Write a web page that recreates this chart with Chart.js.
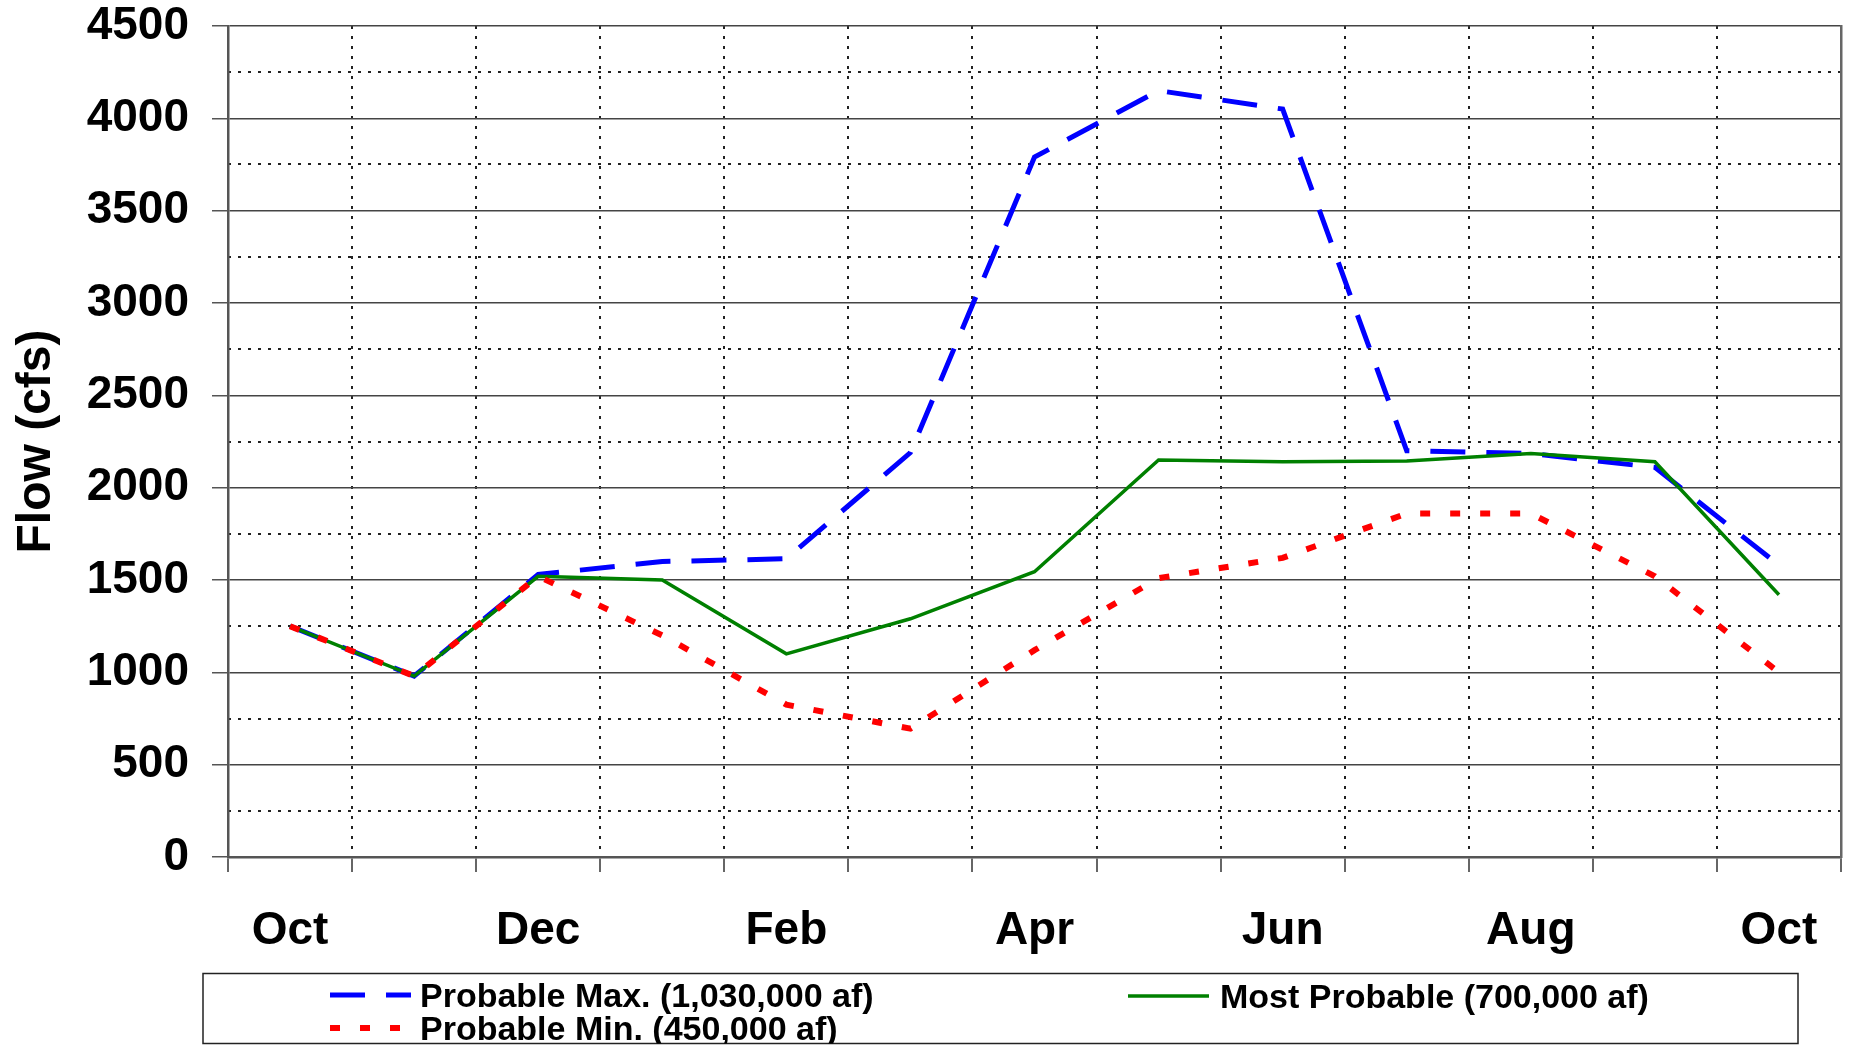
<!DOCTYPE html>
<html>
<head>
<meta charset="utf-8">
<title>Flow forecast</title>
<script src="https://cdn.jsdelivr.net/npm/chart.js@4.4.1/dist/chart.umd.min.js"></script>
<style>
  html, body { margin: 0; padding: 0; background: #fff; }
  #wrap { width: 1850px; height: 1048px; position: relative; }
</style>
</head>
<body>
<div id="wrap"><canvas id="flowChart"></canvas></div>
<script>
// monthly mean flow, Oct through the following Oct
const months = ["Oct", "Nov", "Dec", "Jan", "Feb", "Mar", "Apr", "May", "Jun", "Jul", "Aug", "Sep", "Oct"];
const probableMax = [1250, 980, 1530, 1600, 1615, 2190, 3790, 4150, 4050, 2200, 2185, 2110, 1580];
const mostProbable = [1250, 980, 1520, 1500, 1100, 1290, 1545, 2150, 2140, 2145, 2185, 2140, 1420];
const probableMin = [1250, 980, 1520, 1200, 825, 695, 1120, 1510, 1620, 1860, 1860, 1520, 1000];
const yMin = 0, yMax = 4500, yMajorStep = 500, yMinorStep = 250;

const FONT = "'Liberation Sans', Arial, Helvetica, sans-serif";
Chart.defaults.font.family = FONT;
Chart.defaults.color = "#000";

// legend is a boxed two-column grid in the original, so draw it by hand
const boxLegend = {
  id: "boxLegend",
  afterDraw(chart) {
    const ctx = chart.ctx;
    const box = { x: 203, y: 973.5, w: 1595, h: 70 };
    const slots = [
      { x: 330, y: 995, tx: 420 },
      { x: 1128, y: 996, tx: 1220 },
      { x: 330, y: 1028, tx: 420 }
    ];
    ctx.save();
    ctx.strokeStyle = "#222";
    ctx.lineWidth = 1.5;
    ctx.strokeRect(box.x, box.y, box.w, box.h);
    ctx.beginPath();
    ctx.rect(box.x, box.y, box.w, box.h);
    ctx.clip();
    chart.data.datasets.forEach((ds, i) => {
      const s = slots[i];
      ctx.strokeStyle = ds.borderColor;
      ctx.lineWidth = ds.borderWidth;
      ctx.lineCap = "butt";
      ctx.setLineDash(ds.borderDash || []);
      ctx.beginPath();
      ctx.moveTo(s.x, s.y);
      ctx.lineTo(s.x + 81, s.y);
      ctx.stroke();
      ctx.setLineDash([]);
      ctx.fillStyle = "#000";
      ctx.font = "bold 34px " + FONT;
      ctx.textBaseline = "alphabetic";
      ctx.fillText(ds.label, s.tx, s.y + 12);
    });
    ctx.restore();
  }
};

const ctx = document.getElementById("flowChart").getContext("2d");
new Chart(ctx, {
  type: "line",
  data: {
    labels: months,
    datasets: [
      {
        label: "Probable Max. (1,030,000 af)",
        data: probableMax,
        borderColor: "#0000ff",
        borderWidth: 5,
        borderDash: [35, 21],
        pointRadius: 0,
        tension: 0,
        order: 3
      },
      {
        label: "Most Probable (700,000 af)",
        data: mostProbable,
        borderColor: "#008000",
        borderWidth: 3.5,
        pointRadius: 0,
        tension: 0,
        order: 2
      },
      {
        label: "Probable Min. (450,000 af)",
        data: probableMin,
        borderColor: "#ff0000",
        borderWidth: 6,
        borderDash: [10, 20],
        pointRadius: 0,
        tension: 0,
        order: 1
      }
    ]
  },
  options: {
    responsive: true,
    maintainAspectRatio: false,
    animation: false,
    layout: { padding: { left: 0, right: 9, top: 26, bottom: 91 } },
    plugins: {
      legend: { display: false },
      tooltip: { enabled: false }
    },
    scales: {
      x: {
        offset: true,
        grid: {
          offset: true,
          color: "#222",
          lineWidth: 2,
          tickLength: 15,
          tickColor: "#333",
          tickWidth: 1.5,
          tickBorderDash: []
        },
        border: { display: true, color: "#555", width: 2.5, dash: [3, 7] },
        ticks: {
          autoSkip: false,
          maxRotation: 0,
          padding: 32,
          font: { size: 46, weight: "bold" },
          callback: function (value, index) {
            return index % 2 === 0 ? this.getLabelForValue(value) : "";
          }
        },
        afterFit: (scale) => { scale.height = 100; }
      },
      y: {
        min: yMin,
        max: yMax,
        grid: {
          color: "#444",
          lineWidth: 1.5,
          tickLength: 16,
          tickColor: "#555",
          tickWidth: 1.5
        },
        border: { display: true, color: "#555", width: 2.5 },
        ticks: {
          stepSize: yMajorStep,
          padding: 23,
          font: { size: 46, weight: "bold", lineHeight: 1 },
          callback: (value) => String(value)
        },
        title: {
          display: true,
          text: "Flow (cfs)",
          font: { size: 48, weight: "bold" },
          padding: { top: 8, bottom: 0 }
        },
        afterFit: (scale) => {
          scale.width = 228;
          scale.paddingTop = 0;
          scale.paddingBottom = 0;
        }
      },
      yMinor: {
        position: "right",
        min: yMin,
        max: yMax,
        grid: {
          drawTicks: false,
          lineWidth: 2,
          color: (c) => (c.tick && c.tick.value % yMajorStep === 0 ? "rgba(0,0,0,0)" : "#222")
        },
        border: { display: true, color: "#666", width: 2.5, dash: [3, 7] },
        ticks: { stepSize: yMinorStep, display: false },
        afterFit: (scale) => {
          scale.width = 0;
          scale.paddingTop = 0;
          scale.paddingBottom = 0;
        }
      }
    }
  },
  plugins: [boxLegend]
});
</script>
</body>
</html>
